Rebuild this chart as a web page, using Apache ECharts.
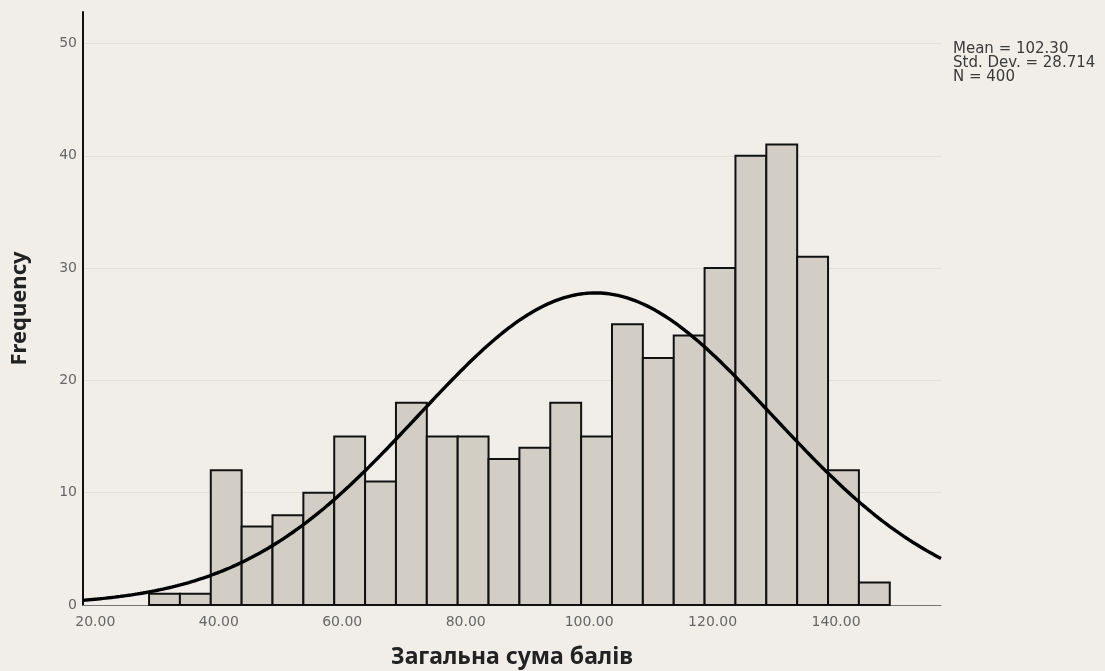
<!DOCTYPE html>
<html>
<head>
<meta charset="utf-8">
<title>Загальна сума балів</title>
<script src="https://cdn.jsdelivr.net/npm/echarts@6/dist/echarts.min.js"></script>
<style>
  html, body { margin: 0; padding: 0; background: #f1eee9; }
  #chart { width: 1105px; height: 671px; }
</style>
</head>
<body>
<div id="chart"></div>
<script>
// Histogram bins: lower edge of each 5-point bin and its count
const binStarts = [30, 35, 40, 45, 50, 55, 60, 65, 70, 75, 80, 85, 90, 95, 100, 105, 110, 115, 120, 125, 130, 135, 140, 145];
const binCounts = [1, 1, 12, 7, 8, 10, 15, 11, 18, 15, 15, 13, 14, 18, 15, 25, 22, 24, 30, 40, 41, 31, 12, 2];
const binWidth = 5;

// Summary statistics shown beside the plot
const statMean = 102.30;
const statStdDev = 28.714;
const statN = 400;

// Axis tick labels
const xTickValues = [20, 40, 60, 80, 100, 120, 140];
const yTickValues = [0, 10, 20, 30, 40, 50];

const xMin = 19.3, xMax = 158.3;
const yMax = 52.8;

// Normal curve scaled to the histogram (N * bin width * density)
const curve = [];
const steps = 300;
for (let i = 0; i <= steps; i++) {
  const x = xMin + (xMax - xMin) * i / steps;
  const z = (x - statMean) / statStdDev;
  const y = statN * binWidth * Math.exp(-0.5 * z * z) / (statStdDev * Math.sqrt(2 * Math.PI));
  curve.push([x, y]);
}

const bins = binStarts.map((s, i) => [s, s + binWidth, binCounts[i]]);

const chart = echarts.init(document.getElementById('chart'), null, { renderer: 'canvas' });

chart.setOption({
  backgroundColor: '#f1eee9',
  animation: false,
  grid: { left: 83, right: 164, top: 12, bottom: 66, outerBoundsMode: 'none' },
  graphic: [{
    type: 'text',
    left: 953,
    top: 42,
    style: {
      text: 'Mean = ' + statMean.toFixed(2) + '\nStd. Dev. = ' + statStdDev.toFixed(3) + '\nN = ' + statN,
      font: '15px "DejaVu Sans"',
      lineHeight: 14,
      fill: '#3a3a3a'
    }
  }],
  xAxis: {
    type: 'value',
    min: xMin,
    max: xMax,
    name: 'Загальна сума балів',
    nameLocation: 'middle',
    nameGap: 41,
    nameTextStyle: { fontFamily: 'Noto Sans', fontWeight: 'bold', fontSize: 23, color: '#222222' },
    axisLine: { show: true, lineStyle: { color: '#777777', width: 1 } },
    axisTick: { show: false },
    splitLine: { show: false },
    axisLabel: {
      customValues: xTickValues,
      formatter: v => v.toFixed(2),
      fontFamily: 'DejaVu Sans',
      fontSize: 14,
      color: '#666666',
      margin: 10,
      padding: [0, 0, 0, 16]
    }
  },
  yAxis: {
    type: 'value',
    min: 0,
    max: yMax,
    interval: 10,
    name: 'Frequency',
    nameLocation: 'middle',
    nameGap: 52,
    nameRotate: 90,
    nameTextStyle: { fontFamily: 'Noto Sans', fontWeight: 'bold', fontSize: 22, color: '#222222' },
    axisLine: { show: true, lineStyle: { color: '#111111', width: 2 } },
    axisTick: { show: false },
    splitLine: { show: true, showMaxLine: false, lineStyle: { color: '#e4e0d8', width: 1 } },
    axisLabel: {
      formatter: v => (yTickValues.indexOf(v) >= 0 ? String(v) : ''),
      showMaxLabel: false,
      fontFamily: 'DejaVu Sans',
      fontSize: 14,
      color: '#666666',
      margin: 6
    }
  },
  series: [
    {
      type: 'custom',
      data: bins,
      encode: { x: [0, 1], y: 2 },
      renderItem: (params, api) => {
        const p0 = api.coord([api.value(0), api.value(2)]);
        const p1 = api.coord([api.value(1), 0]);
        return {
          type: 'rect',
          shape: { x: p0[0], y: p0[1], width: p1[0] - p0[0], height: p1[1] - p0[1] },
          style: { fill: '#d2cec5', stroke: '#111111', lineWidth: 2 }
        };
      },
      z: 2
    },
    {
      type: 'line',
      data: curve,
      showSymbol: false,
      smooth: false,
      clip: true,
      lineStyle: { color: '#000000', width: 3.4 },
      z: 3
    }
  ]
});
</script>
</body>
</html>
